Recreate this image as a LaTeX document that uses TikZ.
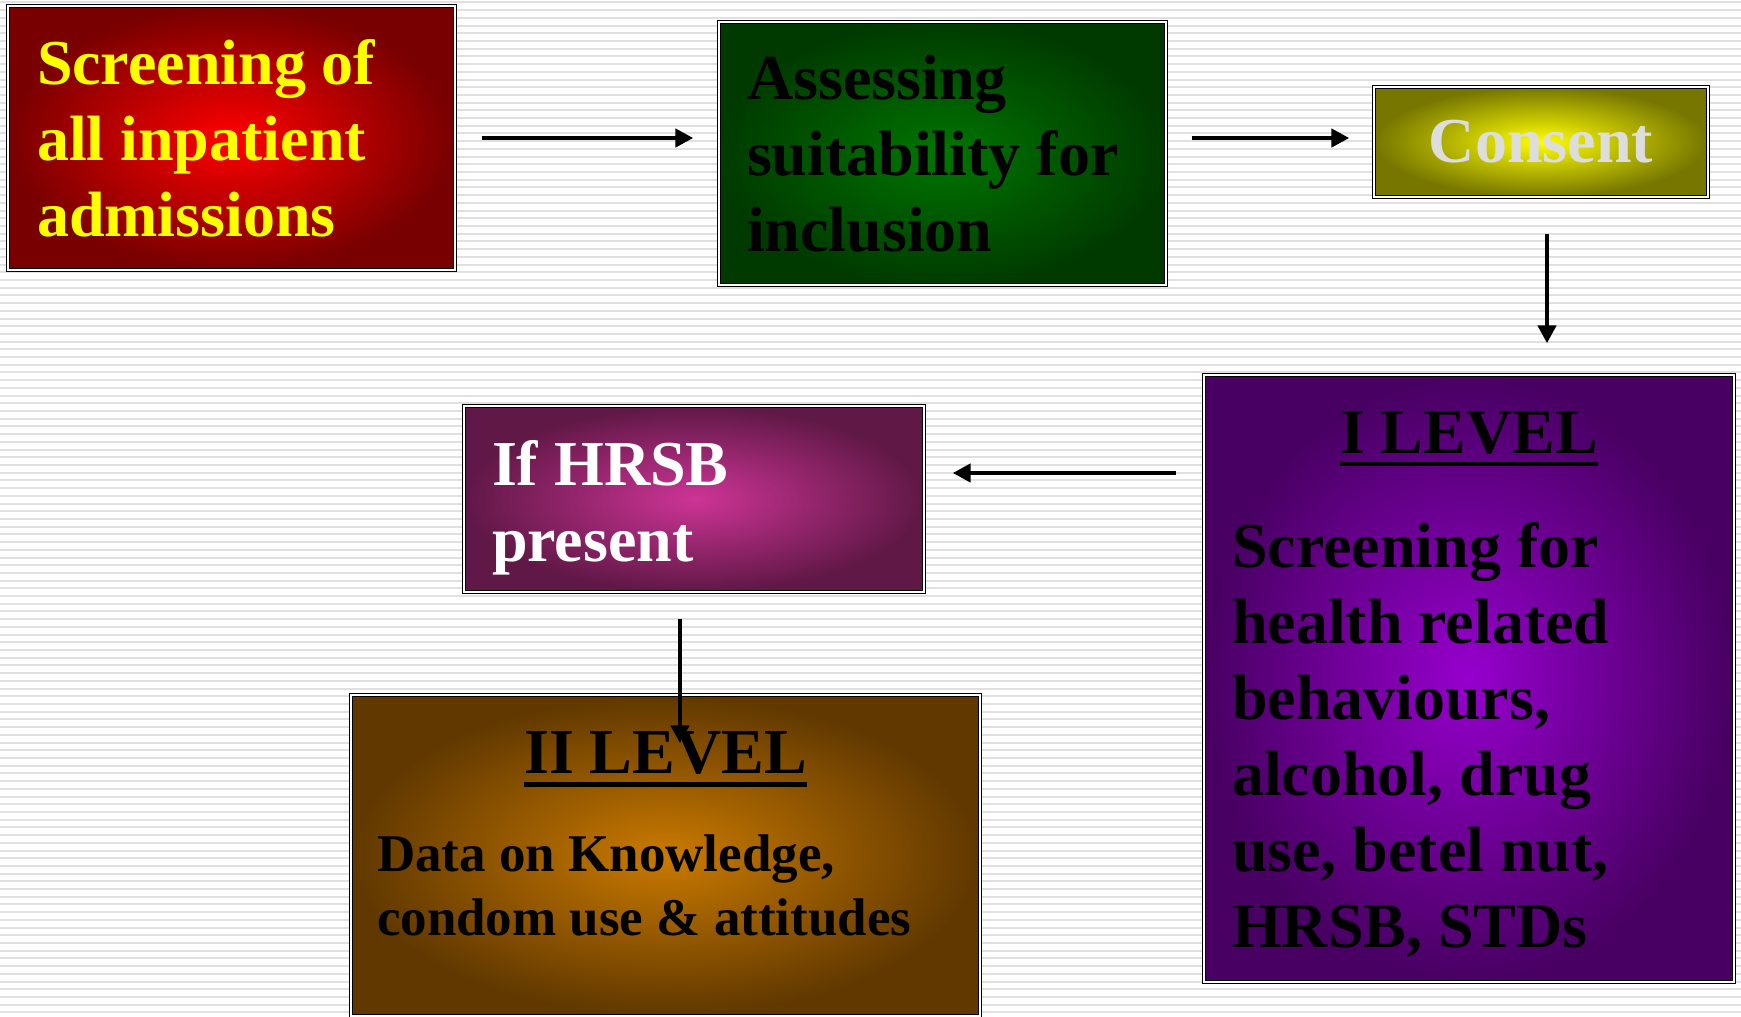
\documentclass[tikz,border=0pt]{standalone}
\usepackage{fontspec}
\setmainfont{Liberation Serif}
\usetikzlibrary{arrows.meta,calc}

\definecolor{screenin}{RGB}{255,0,0}
\definecolor{screenout}{RGB}{120,0,0}
\definecolor{assessin}{RGB}{0,118,0}
\definecolor{assessout}{RGB}{0,58,0}
\definecolor{consentin}{RGB}{255,255,0}
\definecolor{consentout}{RGB}{118,118,0}
\definecolor{consenttext}{RGB}{221,221,221}
\definecolor{levelonein}{RGB}{150,0,205}
\definecolor{leveloneout}{RGB}{72,0,98}
\definecolor{hrsbin}{RGB}{205,52,150}
\definecolor{hrsbout}{RGB}{96,24,70}
\definecolor{leveltwoin}{RGB}{202,122,0}
\definecolor{leveltwoout}{RGB}{96,56,0}

\newcommand{\levelline}[1]{\setbox0\hbox{#1}\rlap{\rule[-6.4pt]{\wd0}{2.2pt}}\box0}

\tikzset{
  stagebox/.style={rectangle, draw=black, line width=0.7pt, double=white,
    double distance=0.6pt, align=flush left,
    font=\bfseries\fontsize{32pt}{38pt}\selectfont},
  flow/.style={-{Triangle[length=9pt,width=9pt]}, line width=2.3pt},
  stripe/.style={draw=black!12, line width=1pt}
}

\begin{document}
\begin{tikzpicture}[x=0.5pt,y=-0.5pt]
  \useasboundingbox (0,0) rectangle (1741,1017);
  \fill[white] (0,0) rectangle (1741,1017);
  \foreach \k in {0,...,131}
    \draw[stripe] (0,2.4+7.71*\k) -- (1741,2.4+7.71*\k);

  \node[stagebox, minimum width=223.5pt, minimum height=132pt,
    text width=194.5pt, inner xsep=14.5pt, text=consentin,
    inner color=screenin, outer color=screenout]
    (screen) at (231.5,138) {Screening of\\all inpatient\\admissions};
  \node[stagebox, minimum width=223.5pt, minimum height=131.5pt,
    text width=195.5pt, inner xsep=14pt, text=black,
    inner color=assessin, outer color=assessout]
    (assess) at (942.5,153.5) {Assessing\\suitability for\\inclusion};
  \node[stagebox, align=center, minimum width=167pt, minimum height=55pt,
    text=consenttext, inner color=consentin, outer color=consentout]
    (consent) at (1541,142) {Consent};
  \node[stagebox, minimum width=265pt, minimum height=303.5pt,
    text width=237pt, inner xsep=14pt, text=black,
    inner color=levelonein, outer color=leveloneout]
    (levelone) at (1469,678.5)
    {\rule{0pt}{27pt}\makebox[\hsize]{\levelline{I LEVEL}}\\[19pt]
     Screening for\\health related\\behaviours,\\alcohol, drug\\
     use, betel nut,\\HRSB, STDs};
  \node[stagebox, minimum width=230pt, minimum height=93pt,
    text width=202pt, inner xsep=14pt, text=white,
    inner color=hrsbin, outer color=hrsbout]
    (hrsb) at (694,499) {\rule{0pt}{31pt}If HRSB\\present};
  \node[stagebox, font=\bfseries\fontsize{26.5pt}{32pt}\selectfont,
    minimum width=314.5pt, minimum height=160.5pt,
    text width=288.5pt, inner xsep=13pt, text=black,
    inner color=leveltwoin, outer color=leveltwoout]
    (leveltwo) at (665.5,855.5)
    {\makebox[\hsize]{\fontsize{32pt}{38pt}\selectfont\levelline{II LEVEL}}\\[17pt]
     Data on Knowledge,\\condom use \& attitudes\rule[-21.5pt]{0pt}{0pt}};

  \begin{scope}[flow]
    \draw[shorten <=13pt, shorten >=12.5pt] (screen.east) -- (screen.east -| assess.west);
    \draw[shorten <=12.5pt, shorten >=12pt] (assess.east |- screen.east) -- (consent.west |- screen.east);
    \draw[shorten <=18pt, shorten >=15.5pt] ($(consent.south)+(6,0)$) -- ($(consent.south |- levelone.north)+(6,0)$);
    \draw[shorten <=13.5pt, shorten >=14pt] ($(levelone.west |- hrsb.east)+(0,-26)$) -- ($(hrsb.east)+(0,-26)$);
    \draw[shorten <=13pt, shorten >=-24.5pt] ($(hrsb.south)+(-14,0)$) -- ($(hrsb.south |- leveltwo.north)+(-14,0)$);
  \end{scope}
\end{tikzpicture}
\end{document}
